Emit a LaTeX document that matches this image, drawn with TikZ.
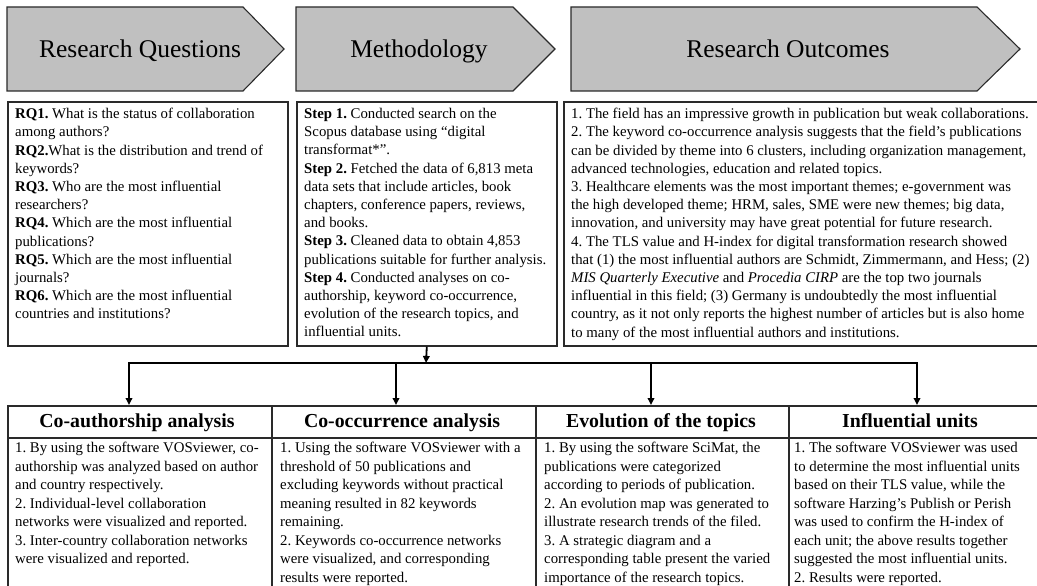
\documentclass[tikz,border=0pt]{standalone}
\usepackage{fontspec}
\setmainfont{Liberation Serif}
\usetikzlibrary{arrows.meta}
\definecolor{hgray}{HTML}{C0C0C0}
\definecolor{lcol}{HTML}{2A2A2A}
\frenchspacing
\begin{document}
\frenchspacing
\begin{tikzpicture}[x=1pt,y=-1pt,
  hdrshape/.style={draw=lcol, fill=hgray, line width=1.1pt, line join=miter},
  hdrtext/.style={inner sep=0pt, font=\fontsize{25.5}{30}\selectfont, anchor=base},
  boxshape/.style={draw=lcol, line width=1.6pt, inner sep=0pt, anchor=north west},
  bodytext/.style={inner sep=0pt, anchor=north west, align=left,
    font=\fontsize{14.8}{18.2}\selectfont\frenchspacing},
  celltext/.style={inner sep=0pt, anchor=north west, align=left,
    font=\fontsize{14.8}{18.5}\selectfont\frenchspacing},
  cellhead/.style={inner sep=0pt, anchor=base, font=\bfseries\fontsize{19.8}{24}\selectfont},
  cellbox/.style={draw=lcol, line width=1.6pt, inner sep=0pt, anchor=north west},
  conn/.style={draw=black, line width=1.8pt},
  arr/.style={conn, -{Triangle[length=7pt,width=6.5pt]}},
]
\useasboundingbox (0,0) rectangle (1037,586);
\clip (0,0) rectangle (1037,586);

% header arrows
\draw[hdrshape] (7,7) -- (243,7) -- (284,49) -- (243,91) -- (7,91) -- cycle;
\draw[hdrshape] (296,7) -- (513,7) -- (555,49) -- (513,91) -- (296,91) -- cycle;
\draw[hdrshape] (571,7) -- (977,7) -- (1020,49) -- (977,91) -- (571,91) -- cycle;
\node[hdrtext] (hrq) at (140,58) {Research Questions};
\node[hdrtext] (hmet) at (419,58) {Methodology};
\node[hdrtext] (hout) at (788,58) {Research Outcomes};

% upper boxes
\node[boxshape, minimum width=280pt, minimum height=244pt] (rqbox) at (7,101) {};
\node[boxshape, minimum width=260pt, minimum height=244pt] (metbox) at (296,101) {};
\node[boxshape, minimum width=500pt, minimum height=244pt] (outbox) at (563,101) {};

\node[bodytext] (rqtext) at (15,108) {%
\textbf{RQ1.} What is the status of collaboration\\
among authors?\\
\textbf{RQ2.}What is the distribution and trend of\\
keywords?\\
\textbf{RQ3.} Who are the most influential\\
researchers?\\
\textbf{RQ4.} Which are the most influential\\
publications?\\
\textbf{RQ5.} Which are the most influential\\
journals?\\
\textbf{RQ6.} Which are the most influential\\
countries and institutions?};

\node[bodytext] (mettext) at (304,108) {%
\textbf{Step 1.} Conducted search on the\\
Scopus database using “digital\\
transformat*”.\\
\textbf{Step 2.} Fetched the data of 6,813 meta\\
data sets that include articles, book\\
chapters, conference papers, reviews,\\
and books.\\
\textbf{Step 3.} Cleaned data to obtain 4,853\\
publications suitable for further analysis.\\
\textbf{Step 4.} Conducted analyses on co-\\
authorship, keyword co-occurrence,\\
evolution of the research topics, and\\
influential units.};

\node[bodytext] (outtext) at (571,108) {%
1. The field has an impressive growth in publication but weak collaborations.\\
2. The keyword co-occurrence analysis suggests that the field’s publications\\
can be divided by theme into 6 clusters, including organization management,\\
advanced technologies, education and related topics.\\
3. Healthcare elements was the most important themes; e-government was\\
the high developed theme; HRM, sales, SME were new themes; big data,\\
innovation, and university may have great potential for future research.\\
4. The TLS value and H-index for digital transformation research showed\\
that (1) the most influential authors are Schmidt, Zimmermann, and Hess; (2)\\
\textit{MIS Quarterly Executive} and \textit{Procedia CIRP} are the top two journals\\
influential in this field; (3) Germany is undoubtedly the most influential\\
country, as it not only reports the highest number of articles but is also home\\
to many of the most influential authors and institutions.};

% connectors
\coordinate (hub) at (426,363);
\coordinate (bl) at (129,363);
\coordinate (br) at (917,363);
\coordinate (b2) at (396,363);
\coordinate (b3) at (651,363);
\coordinate (t1) at (129,405);
\coordinate (t2) at (396,405);
\coordinate (t3) at (651,405);
\coordinate (t4) at (917,405);
\draw[arr] (metbox.south) -- (hub);
\draw[conn] ([xshift=-0.9pt]bl) -- ([xshift=0.9pt]br);
\draw[arr] (bl) -- (t1);
\draw[arr] (b2) -- (t2);
\draw[arr] (b3) -- (t3);
\draw[arr] (br) -- (t4);

% table
\node[cellbox, minimum width=264pt, minimum height=32pt] (h1) at (7,405) {};
\node[cellbox, minimum width=264pt, minimum height=32pt] (h2) at (271,405) {};
\node[cellbox, minimum width=253pt, minimum height=32pt] (h3) at (535,405) {};
\node[cellbox, minimum width=270pt, minimum height=32pt] (h4) at (788,405) {};
\node[cellbox, minimum width=264pt, minimum height=170pt] (c1) at (7,437) {};
\node[cellbox, minimum width=264pt, minimum height=170pt] (c2) at (271,437) {};
\node[cellbox, minimum width=253pt, minimum height=170pt] (c3) at (535,437) {};
\node[cellbox, minimum width=270pt, minimum height=170pt] (c4) at (788,437) {};

\node[cellhead] (ht1) at (137,427) {Co-authorship analysis};
\node[cellhead] (ht2) at (402,427) {Co-occurrence analysis};
\node[cellhead] (ht3) at (661,427) {Evolution of the topics};
\node[cellhead] (ht4) at (910,427) {Influential units};

\node[celltext] (ct1) at (15,442) {%
1. By using the software VOSviewer, co-\\
authorship was analyzed based on author\\
and country respectively.\\
2. Individual-level collaboration\\
networks were visualized and reported.\\
3. Inter-country collaboration networks\\
were visualized and reported.};

\node[celltext] (ct2) at (280,442) {%
1. Using the software VOSviewer with a\\
threshold of 50 publications and\\
excluding keywords without practical\\
meaning resulted in 82 keywords\\
remaining.\\
2. Keywords co-occurrence networks\\
were visualized, and corresponding\\
results were reported.};

\node[celltext] (ct3) at (544,442) {%
1. By using the software SciMat, the\\
publications were categorized\\
according to periods of publication.\\
2. An evolution map was generated to\\
illustrate research trends of the filed.\\
3. A strategic diagram and a\\
corresponding table present the varied\\
importance of the research topics.};

\node[celltext] (ct4) at (794,442) {%
1. The software VOSviewer was used\\
to determine the most influential units\\
based on their TLS value, while the\\
software Harzing’s Publish or Perish\\
was used to confirm the H-index of\\
each unit; the above results together\\
suggested the most influential units.\\
2. Results were reported.};
\end{tikzpicture}
\end{document}
